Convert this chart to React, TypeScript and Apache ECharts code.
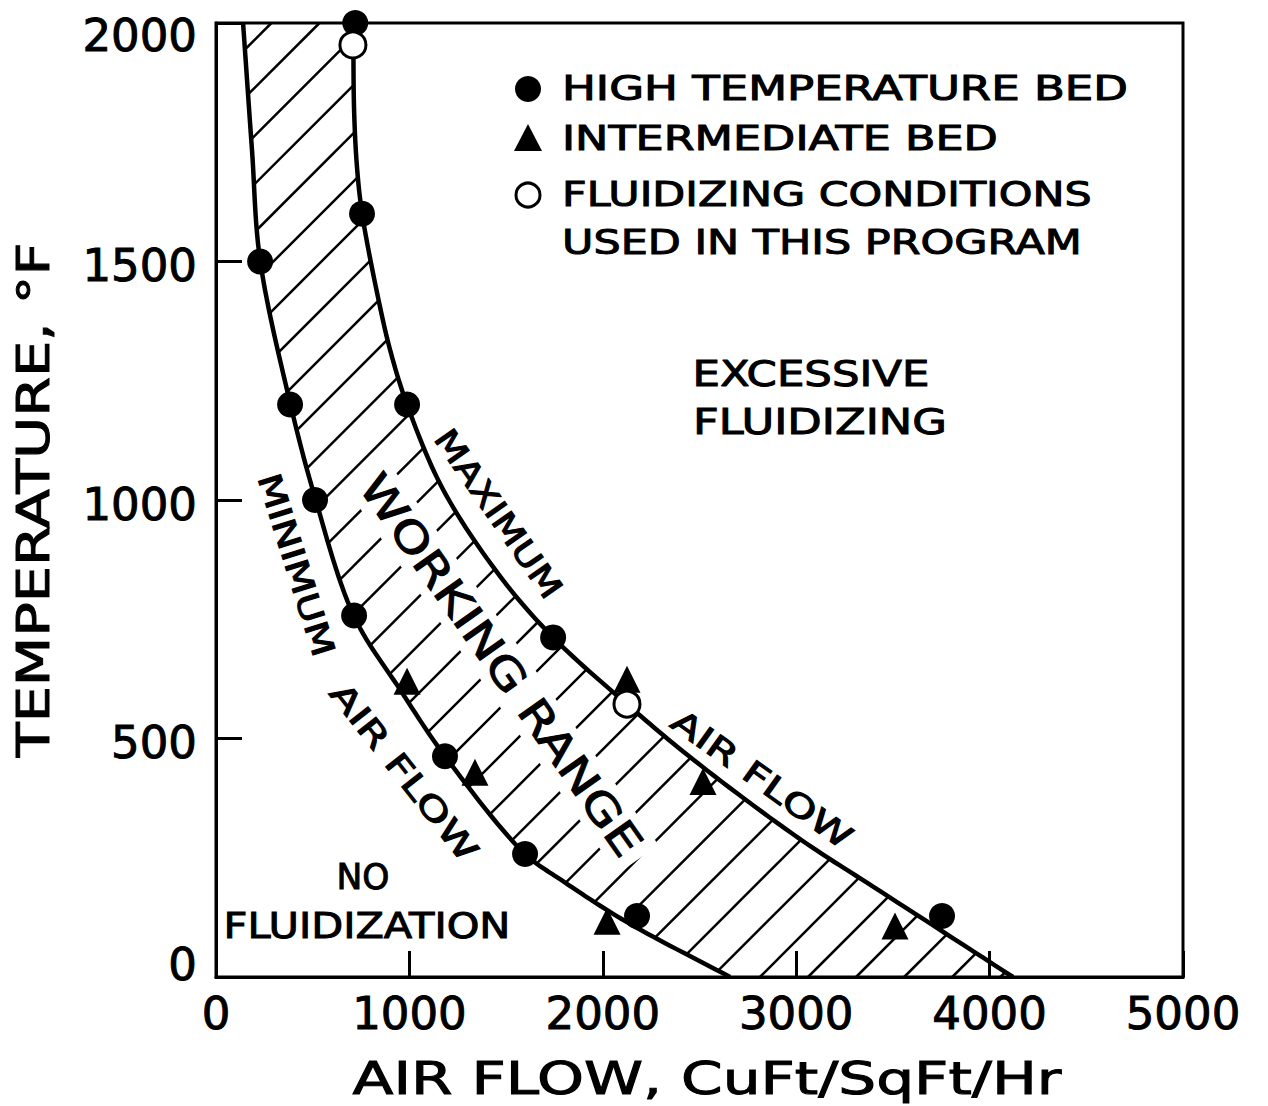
import React, { useEffect, useRef } from "react";
import * as echarts from "echarts";

const FONT = "DejaVu Sans";

// ---- axes ----
const X_MIN = 0;
const X_MAX = 5000;
const X_STEP = 1000;
const Y_MIN = 0;
const Y_MAX = 2000;
const Y_STEP = 500;
const X_TITLE = "AIR FLOW, CuFt/SqFt/Hr";
const Y_TITLE = "TEMPERATURE, °F";

// ---- boundary curves (air flow, temperature) ----
const MIN_AIR_FLOW_CURVE: number[][] = [
  [140, 2000], [186, 1734], [228, 1503], [383, 1204], [512, 1005], [714, 756],
  [951, 603], [1184, 463], [1598, 258], [1779, 205], [2125, 115], [2658, 0],
];
const MAX_AIR_FLOW_CURVE: number[][] = [
  [710, 2000], [714, 1818], [729, 1698], [755, 1602], [833, 1434], [900, 1315],
  [988, 1200], [1174, 1022], [1469, 840], [1743, 712], [2125, 572], [2467, 456],
  [3020, 289], [3434, 180], [4121, 0],
];

// ---- measured points ----
const HIGH_TEMPERATURE_BED: number[][] = [
  [720, 2000], [755, 1600], [228, 1500], [383, 1200], [988, 1200], [512, 1000],
  [714, 758], [1743, 712], [1184, 463], [1598, 258], [2177, 128], [3754, 128],
];
const INTERMEDIATE_BED: number[][] = [
  [988, 620], [1339, 429], [2125, 624], [2518, 410], [2022, 117], [3511, 107],
];
const FLUIDIZING_CONDITIONS: number[][] = [
  [708, 1954], [2125, 572],
];

// ---- texts ----
const LEGEND_LABELS = [
  "HIGH TEMPERATURE BED",
  "INTERMEDIATE BED",
  "FLUIDIZING CONDITIONS",
  "USED IN THIS PROGRAM",
];
const REGION_LABELS = ["EXCESSIVE", "FLUIDIZING", "NO", "FLUIDIZATION"];
const CURVE_LABELS = ["MAXIMUM", "WORKING RANGE", "MINIMUM", "AIR FLOW"];

let measureCtx: CanvasRenderingContext2D | null = null;
function textWidth(text: string, size: number): number {
  if (!measureCtx) measureCtx = document.createElement("canvas").getContext("2d");
  if (!measureCtx) return text.length * size * 0.6;
  measureCtx.font = `${size}px "${FONT}"`;
  return measureCtx.measureText(text).width;
}

function stretchedText(
  text: string, x: number, y: number, size: number, target: number,
  rotDeg = 0, align = "center", z = 50
): any {
  const sx = target / textWidth(text, size);
  return {
    type: "text",
    x, y,
    rotation: (rotDeg * Math.PI) / 180,
    scaleX: sx,
    scaleY: 1,
    z,
    silent: true,
    style: {
      text,
      font: `${size}px "${FONT}"`,
      fill: "#000",
      stroke: "#000",
      lineWidth: 1,
      align,
      verticalAlign: "middle",
      textAlign: align,
      textVerticalAlign: "middle",
    },
  };
}

// centripetal Catmull-Rom for drawing a smooth boundary through pixel points
function smoothPath(pts: number[][], steps: number): number[][] {
  const n = pts.length;
  const get = (i: number) => {
    if (i < 0) return [2 * pts[0][0] - pts[1][0], 2 * pts[0][1] - pts[1][1]];
    if (i >= n) return [2 * pts[n - 1][0] - pts[n - 2][0], 2 * pts[n - 1][1] - pts[n - 2][1]];
    return pts[i];
  };
  const d = (a: number[], b: number[]) =>
    Math.max(Math.pow(Math.hypot(b[0] - a[0], b[1] - a[1]), 0.5), 1e-4);
  const out: number[][] = [];
  for (let i = 0; i < n - 1; i++) {
    const p0 = get(i - 1), p1 = get(i), p2 = get(i + 1), p3 = get(i + 2);
    const t0 = 0, t1 = t0 + d(p0, p1), t2 = t1 + d(p1, p2), t3 = t2 + d(p2, p3);
    for (let s = 0; s < steps; s++) {
      const t = t1 + ((t2 - t1) * s) / steps;
      const lerp = (a: number[], b: number[], ta: number, tb: number) => [
        ((tb - t) / (tb - ta)) * a[0] + ((t - ta) / (tb - ta)) * b[0],
        ((tb - t) / (tb - ta)) * a[1] + ((t - ta) / (tb - ta)) * b[1],
      ];
      const A1 = lerp(p0, p1, t0, t1), A2 = lerp(p1, p2, t1, t2), A3 = lerp(p2, p3, t2, t3);
      const B1 = lerp(A1, A2, t0, t2), B2 = lerp(A2, A3, t1, t3);
      out.push(lerp(B1, B2, t1, t2));
    }
  }
  out.push(pts[n - 1]);
  return out;
}

function renderWorkingRange(params: any, api: any) {
  const minPx = smoothPath(MIN_AIR_FLOW_CURVE.map((p) => api.coord(p)), 14);
  const maxPx = smoothPath(MAX_AIR_FLOW_CURVE.map((p) => api.coord(p)), 14);
  const poly = [...minPx, ...maxPx.slice().reverse()];
  const ang = (45 * Math.PI) / 180;
  const nx = Math.sin(ang), ny = Math.cos(ang);
  const ux = Math.cos(ang), uy = -Math.sin(ang);
  const cs = poly.map((p) => p[0] * nx + p[1] * ny);
  const cmin = Math.min(...cs), cmax = Math.max(...cs);
  const spacing = 34;
  const phase = (808 + 977) * nx;
  const start = phase + Math.ceil((cmin - phase) / spacing) * spacing;
  const children: any[] = [];
  for (let c = start; c <= cmax; c += spacing) {
    const hits: number[][] = [];
    for (let i = 0; i < poly.length; i++) {
      const j = (i + 1) % poly.length;
      const da = cs[i] - c, db = cs[j] - c;
      if (da < 0 !== db < 0) {
        const t = da / (da - db);
        hits.push([
          poly[i][0] + t * (poly[j][0] - poly[i][0]),
          poly[i][1] + t * (poly[j][1] - poly[i][1]),
        ]);
      }
    }
    hits.sort((p, q) => p[0] * ux + p[1] * uy - (q[0] * ux + q[1] * uy));
    for (let k = 0; k + 1 < hits.length; k += 2) {
      children.push({
        type: "line",
        shape: { x1: hits[k][0], y1: hits[k][1], x2: hits[k + 1][0], y2: hits[k + 1][1] },
        style: { stroke: "#000", lineWidth: 2.5, fill: "none" },
      });
    }
  }
  children.push({
    type: "polyline",
    shape: { points: minPx },
    style: { stroke: "#000", lineWidth: 4.5, fill: "none", lineJoin: "round" },
  });
  children.push({
    type: "polyline",
    shape: { points: maxPx },
    style: { stroke: "#000", lineWidth: 4.5, fill: "none", lineJoin: "round" },
  });
  return { type: "group", children };
}

function buildGraphics(): any[] {
  const els: any[] = [];
  // legend markers
  els.push({ type: "circle", shape: { cx: 528, cy: 89, r: 13 }, style: { fill: "#000" }, z: 50, silent: true });
  els.push({
    type: "polygon",
    shape: { points: [[528, 124], [514, 151], [542, 151]] },
    style: { fill: "#000" }, z: 50, silent: true,
  });
  els.push({
    type: "circle", shape: { cx: 528, cy: 195, r: 12 },
    style: { fill: "#fff", stroke: "#000", lineWidth: 3 }, z: 50, silent: true,
  });
  // legend texts
  els.push(stretchedText(LEGEND_LABELS[0], 562, 88, 34, 566, 0, "left"));
  els.push(stretchedText(LEGEND_LABELS[1], 562, 138, 34, 436, 0, "left"));
  els.push(stretchedText(LEGEND_LABELS[2], 562, 194, 34, 530, 0, "left"));
  els.push(stretchedText(LEGEND_LABELS[3], 562, 242, 34, 520, 0, "left"));
  // axis titles
  els.push(stretchedText(X_TITLE, 707, 1078, 45, 709, 0, "center"));
  els.push(stretchedText(Y_TITLE, 33, 500, 45, 515, 90, "center"));
  // region labels
  els.push(stretchedText(REGION_LABELS[0], 811, 373, 36, 237));
  els.push(stretchedText(REGION_LABELS[1], 820, 422, 36, 254));
  els.push(stretchedText(REGION_LABELS[2], 363, 876, 36, 53));
  els.push(stretchedText(REGION_LABELS[3], 367, 925, 36, 287));
  // curve labels
  els.push(stretchedText(CURVE_LABELS[0], 498, 514, 32, 198, -55.2));
  els.push(stretchedText(CURVE_LABELS[2], 296, 565, 32, 190, -72.6));
  els.push(stretchedText(CURVE_LABELS[3], 404, 772, 32, 217, -51.7));
  els.push(stretchedText(CURVE_LABELS[3], 762, 779, 32, 214, -35.6));
  // working range with white knock-out
  const wr = stretchedText(CURVE_LABELS[1], 0, 0, 42, 457, 0, "center", 52);
  els.push({
    type: "group",
    x: 501, y: 665,
    rotation: (-54.8 * Math.PI) / 180,
    silent: true,
    children: [
      { type: "rect", shape: { x: -238, y: -25, width: 476, height: 50 }, style: { fill: "#fff" }, z: 51, silent: true },
      wr,
    ],
  });
  return els;
}

function buildOption(): any {
  const labelFont = {
    color: "#000", fontSize: 45, fontFamily: FONT,
    textBorderColor: "#000", textBorderWidth: 1,
  };
  return {
    animation: false,
    backgroundColor: "#fff",
    textStyle: { fontFamily: FONT },
    grid: {
      left: 216, right: 85, top: 23, bottom: 129,
      show: true, borderColor: "#000", borderWidth: 3, backgroundColor: "transparent",
    },
    xAxis: {
      type: "value", min: X_MIN, max: X_MAX, interval: X_STEP,
      axisLine: { show: true, lineStyle: { color: "#000", width: 3 } },
      axisTick: { show: true, inside: true, length: 26, lineStyle: { color: "#000", width: 3 } },
      axisLabel: { ...labelFont, margin: 14, formatter: (v: number) => String(v) },
      splitLine: { show: false },
    },
    yAxis: {
      type: "value", min: Y_MIN, max: Y_MAX, interval: Y_STEP,
      axisLine: { show: true, lineStyle: { color: "#000", width: 3 } },
      axisTick: { show: true, inside: true, length: 26, lineStyle: { color: "#000", width: 3 } },
      axisLabel: {
        ...labelFont,
        margin: 19,
        formatter: (v: number) =>
          v === Y_MIN ? `{lo|${v}}` : v === Y_MAX ? `{hi|${v}}` : `{n|${v}}`,
        rich: {
          n: { ...labelFont, padding: [8, 0, 0, 0] },
          hi: { ...labelFont, padding: [24, 0, 0, 0] },
          lo: { ...labelFont, padding: [0, 0, 26, 0] },
        },
      },
      splitLine: { show: false },
    },
    series: [
      {
        type: "custom",
        name: "Working range",
        renderItem: renderWorkingRange,
        data: [[0, 0]],
        z: 1,
        silent: true,
      },
      {
        type: "scatter", name: "HIGH TEMPERATURE BED", data: HIGH_TEMPERATURE_BED,
        symbol: "circle", symbolSize: 26, itemStyle: { color: "#000", opacity: 1 }, z: 5, silent: true,
      },
      {
        type: "scatter", name: "INTERMEDIATE BED", data: INTERMEDIATE_BED,
        symbol: "triangle", symbolSize: 27, itemStyle: { color: "#000", opacity: 1 }, z: 5, silent: true,
      },
      {
        type: "scatter", name: "FLUIDIZING CONDITIONS USED IN THIS PROGRAM", data: FLUIDIZING_CONDITIONS,
        symbol: "circle", symbolSize: 26,
        itemStyle: { color: "#fff", borderColor: "#000", borderWidth: 3, opacity: 1 }, z: 6, silent: true,
      },
    ],
    graphic: { elements: buildGraphics() },
  };
}

export default function App() {
  const ref = useRef<HTMLDivElement>(null);
  useEffect(() => {
    if (!ref.current) return;
    const chart = echarts.init(ref.current, null, { renderer: "svg" });
    chart.setOption(buildOption());
    return () => chart.dispose();
  }, []);
  return (
    <div
      ref={ref}
      style={{ position: "absolute", left: 0, top: 0, width: 1268, height: 1106, background: "#fff" }}
    />
  );
}
